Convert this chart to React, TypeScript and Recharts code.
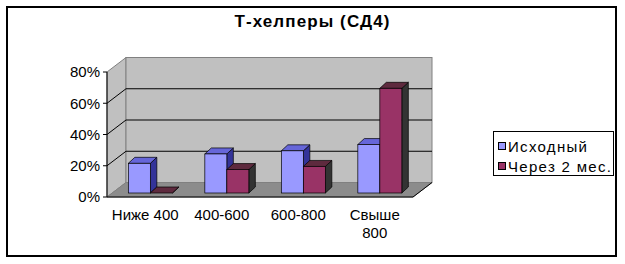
import React from 'react';
import { BarChart, Bar, XAxis, YAxis, ReferenceArea, ReferenceLine, Legend, Text } from 'recharts';

// ---- data ----
const categories = ['Ниже 400', '400-600', '600-800', 'Свыше 800'];
const initialValues = [19, 25, 27, 31];
const after2mValues = [0, 15, 17, 67];
const yTicks = [0, 20, 40, 60, 80];
const gridValues = [20, 40, 60];
const seriesNames = ['Исходный', 'Через 2 мес.'];
const title = 'Т-хелперы (СД4)';

const data = categories.map((c, i) => ({ name: c, initial: initialValues[i], after: after2mValues[i] }));

// ---- style constants ----
const FONT = "'Liberation Sans', Arial, sans-serif";
const WALL_DX = 19;
const WALL_DY = -14.5;
const BAR_DX = 5.5;
const BAR_DY = -4;
const TOP_DX = 6.5;
const TOP_DY = -6;

const Walls = (props: any) => {
  const { x, y, width: w, height: h } = props;
  const b = y + h;
  return (
    <g>
      <polygon
        points={`${x},${b} ${x + WALL_DX},${b + WALL_DY} ${x + WALL_DX},${y + WALL_DY} ${x},${y}`}
        fill="#C0C0C0"
        stroke="#808080"
        strokeWidth={1}
      />
      <rect x={x + WALL_DX} y={y + WALL_DY} width={w} height={h} fill="#C0C0C0" stroke="#808080" strokeWidth={1} />
      <polygon
        points={`${x},${b} ${x + w},${b} ${x + w + WALL_DX},${b + WALL_DY} ${x + WALL_DX},${b + WALL_DY}`}
        fill="#8C8C8C"
        stroke="#808080"
        strokeWidth={1}
      />
      <line x1={x + w} y1={b} x2={x + w + WALL_DX} y2={b + WALL_DY} stroke="#000" strokeWidth={1} />
    </g>
  );
};

const GridLine = (props: any) => {
  const { x1, y1, x2 } = props;
  if (x1 == null || y1 == null) return null;
  return (
    <path
      d={`M${x1},${y1} L${x1 + WALL_DX},${y1 + WALL_DY} L${x2 + WALL_DX},${y1 + WALL_DY}`}
      fill="none"
      stroke="#000"
      strokeWidth={1}
    />
  );
};

const makeBar3D = (front: string, top: string, side: string) => (props: any) => {
  const { x, y, width: w, height: h } = props;
  if (x == null || y == null) return null;
  const X = x + BAR_DX;
  const T = y + BAR_DY;
  const B = y + (h || 0) + BAR_DY;
  return (
    <g>
      <polygon
        points={`${X + w},${T} ${X + w + TOP_DX},${T + TOP_DY} ${X + w + TOP_DX},${B + TOP_DY} ${X + w},${B}`}
        fill={side}
        stroke="#000"
        strokeWidth={0.7}
      />
      <polygon
        points={`${X},${T} ${X + w},${T} ${X + w + TOP_DX},${T + TOP_DY} ${X + TOP_DX},${T + TOP_DY}`}
        fill={top}
        stroke="#000"
        strokeWidth={0.7}
      />
      {h > 0 && <rect x={X} y={T} width={w} height={h} fill={front} stroke="#000" strokeWidth={0.7} />}
    </g>
  );
};

const XTick = (props: any) => {
  const { x, y, payload } = props;
  return (
    <Text
      x={x}
      y={y + 12.5}
      width={74}
      textAnchor="middle"
      verticalAnchor="start"
      lineHeight={18}
      fontSize={15}
      fontFamily={FONT}
      fill="#000"
    >
      {payload.value}
    </Text>
  );
};

const LegendBox = (props: any) => {
  const { payload } = props;
  return (
    <div
      style={{
        boxSizing: 'border-box',
        width: 121,
        height: 45,
        border: '1px solid #000',
        background: '#fff',
        paddingTop: 4,
        fontFamily: FONT,
      }}
    >
      {(payload || []).map((entry: any, i: number) => (
        <div key={i} style={{ height: 20, display: 'flex', alignItems: 'center', paddingLeft: 4 }}>
          <span
            style={{
              display: 'inline-block',
              boxSizing: 'border-box',
              width: 8,
              height: 8,
              background: entry.color,
              border: '1px solid #000',
              marginRight: 2,
            }}
          />
          <span style={{ fontSize: 15, letterSpacing: 1.3, color: '#000', whiteSpace: 'nowrap' }}>{entry.value}</span>
        </div>
      ))}
    </div>
  );
};

export default function App() {
  return (
    <div style={{ position: 'absolute', left: 0, top: 0, width: 625, height: 264, background: '#fff' }}>
      <div
        style={{
          position: 'absolute',
          left: 6,
          top: 6,
          width: 611,
          height: 251,
          boxSizing: 'border-box',
          border: '2px solid #000',
        }}
      />
      <div
        style={{
          position: 'absolute',
          left: 0,
          top: 13,
          width: 625,
          textAlign: 'center',
          fontFamily: FONT,
          fontWeight: 'bold',
          fontSize: 17,
          lineHeight: '18px',
          letterSpacing: 1.1,
          color: '#000',
        }}
      >
        {title}
      </div>
      <div style={{ position: 'absolute', left: 0, top: 0 }}>
        <BarChart
          width={625}
          height={264}
          data={data}
          margin={{ top: 72, right: 91, bottom: 37, left: 47 }}
          barCategoryGap="20.7%"
          barGap={0}
        >
          <ReferenceArea y1={0} y2={80} shape={<Walls />} zIndex={-90} ifOverflow="visible" />
          {gridValues.map((v) => (
            <ReferenceLine key={v} y={v} shape={<GridLine />} zIndex={-80} ifOverflow="visible" />
          ))}
          <XAxis
            dataKey="name"
            height={30}
            tickLine={false}
            tickSize={0}
            tickMargin={0}
            axisLine={{ stroke: '#000', strokeWidth: 1 }}
            tick={<XTick />}
            interval={0}
          />
          <YAxis
            width={60}
            domain={[0, 80]}
            ticks={yTicks}
            tickFormatter={(v: number) => `${v}%`}
            axisLine={{ stroke: '#000', strokeWidth: 1 }}
            tickLine={{ stroke: '#000' }}
            tickSize={4}
            tickMargin={3}
            tick={{ fontSize: 15, fontFamily: FONT, fill: '#000' }}
            interval={0}
          />
          <Bar
            dataKey="initial"
            name={seriesNames[0]}
            fill="#9999FF"
            shape={makeBar3D('#9999FF', '#6666D9', '#333399')}
            isAnimationActive={false}
          />
          <Bar
            dataKey="after"
            name={seriesNames[1]}
            fill="#993366"
            shape={makeBar3D('#993366', '#5E2A3E', '#333333')}
            isAnimationActive={false}
          />
          <Legend
            layout="horizontal"
            align="right"
            verticalAlign="middle"
            content={<LegendBox />}
            wrapperStyle={{ left: 493, top: 131, width: 121, height: 45 }}
          />
        </BarChart>
      </div>
    </div>
  );
}
